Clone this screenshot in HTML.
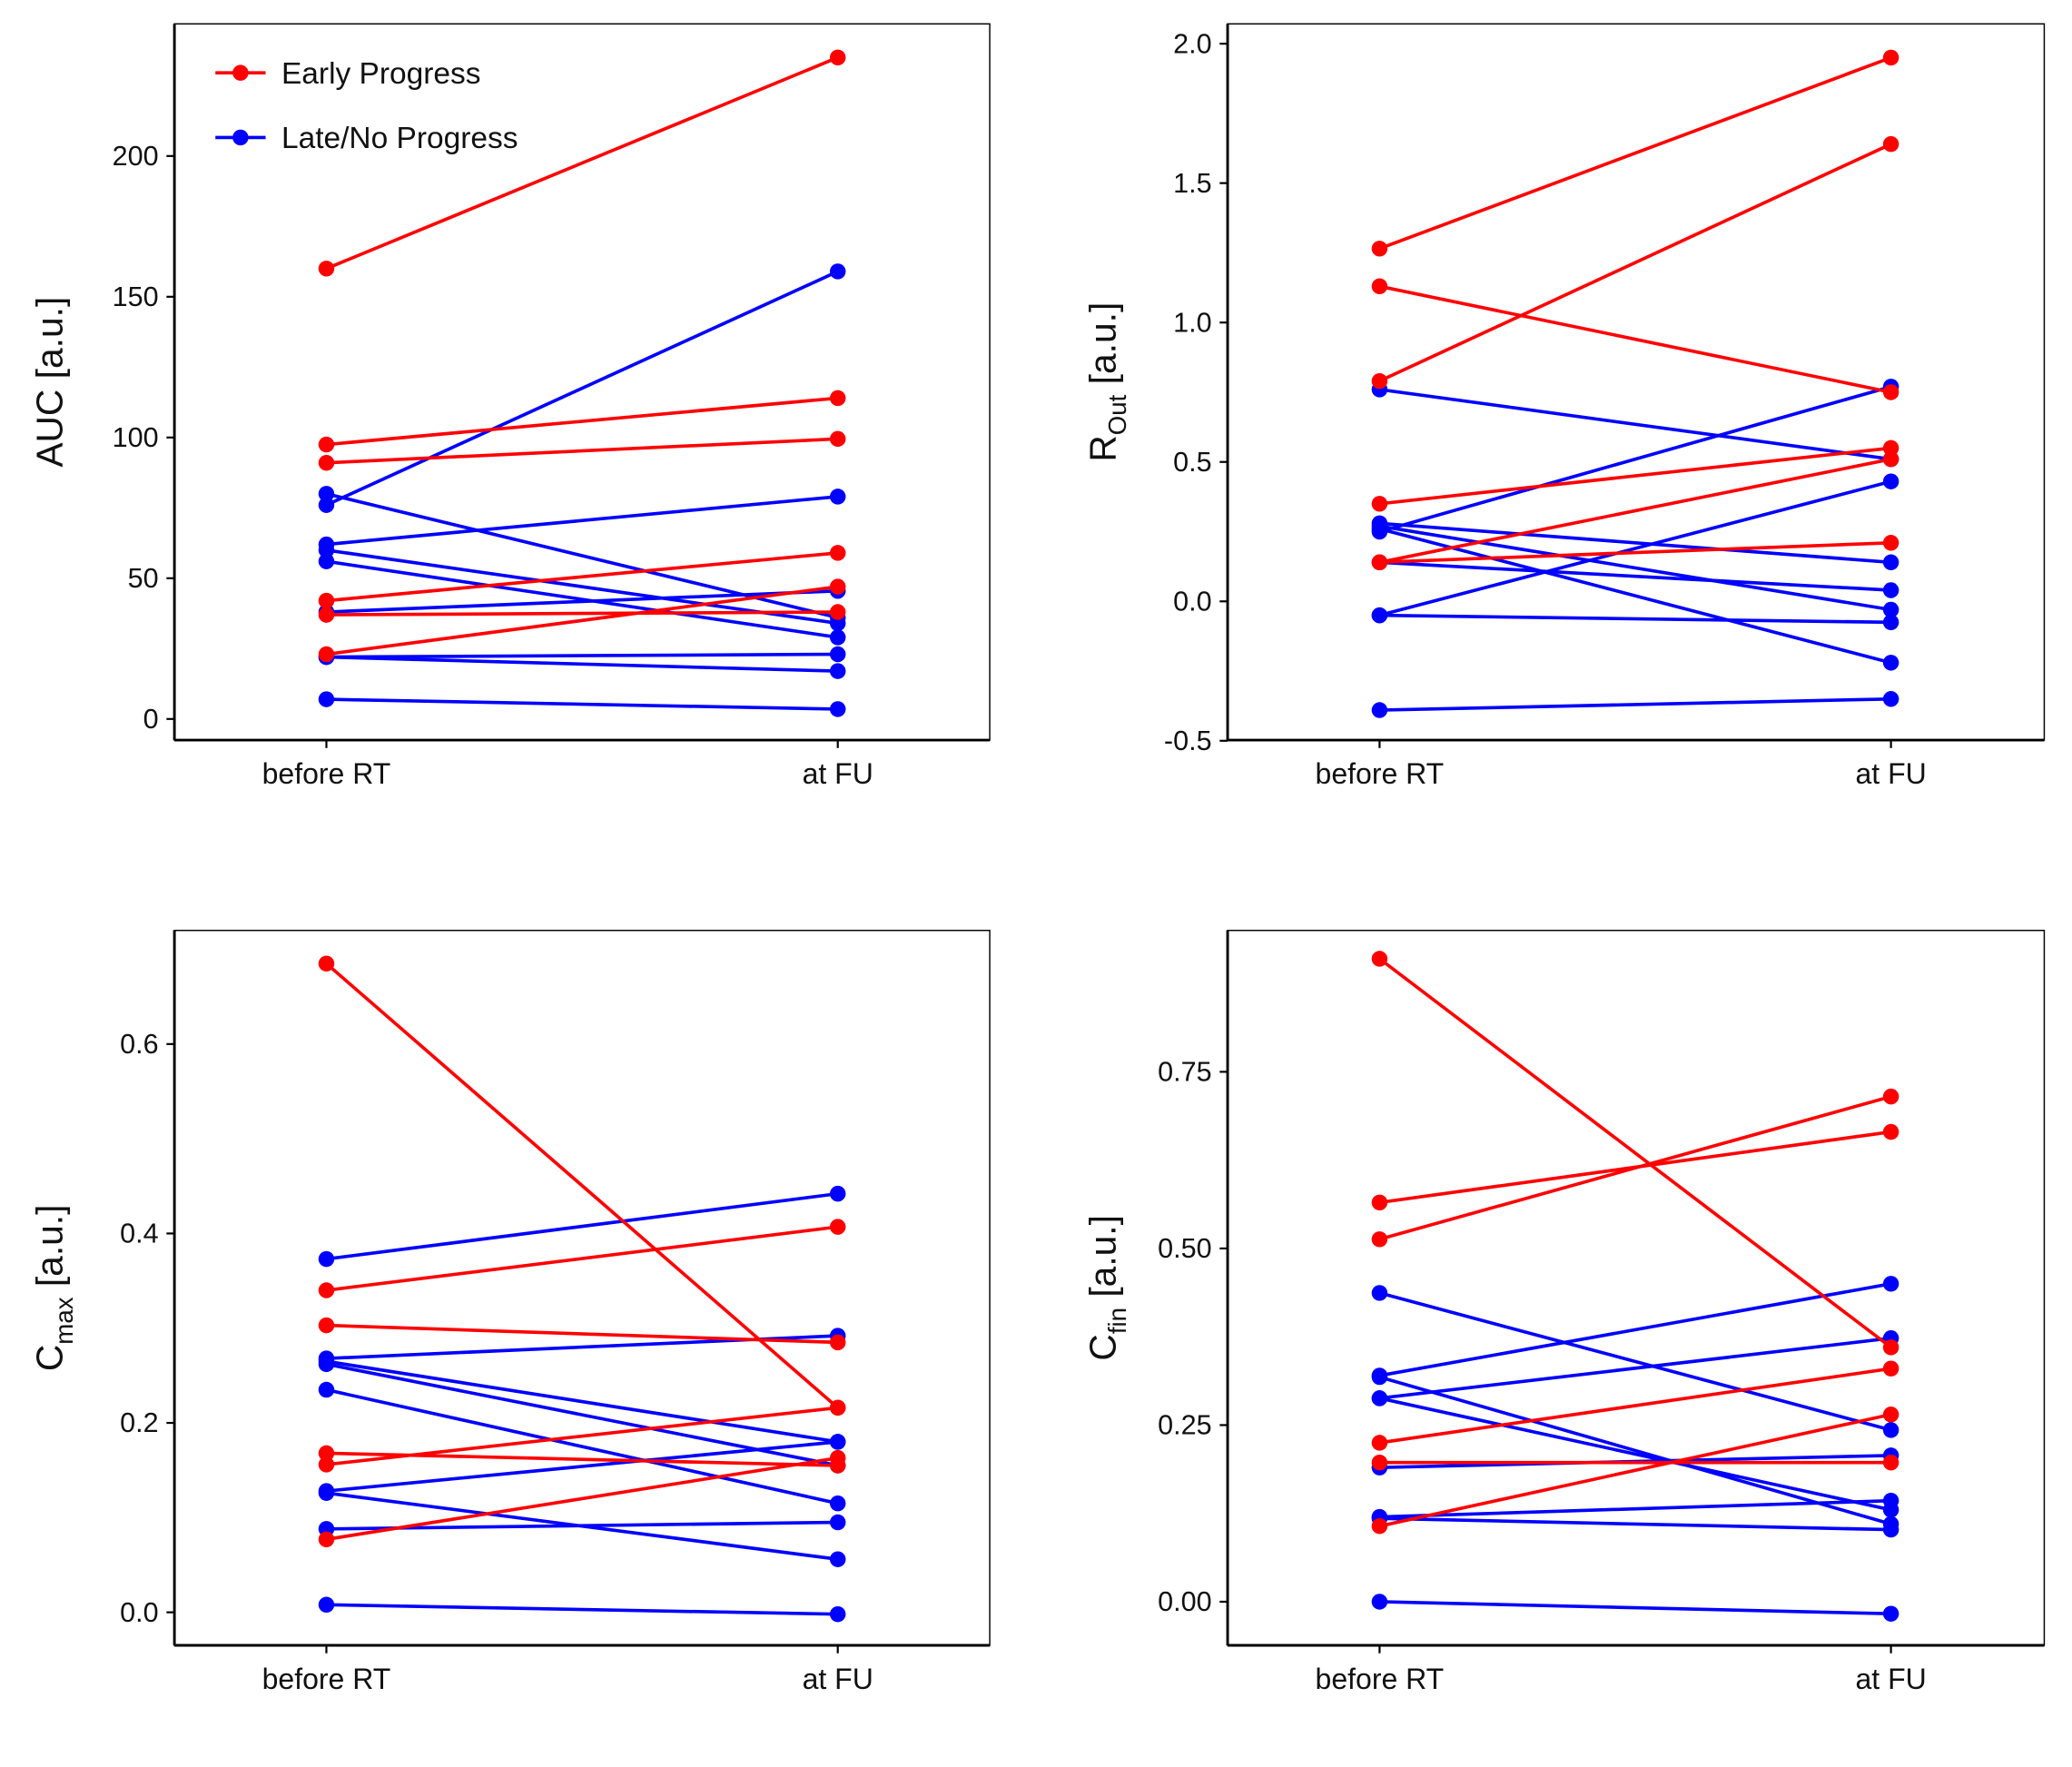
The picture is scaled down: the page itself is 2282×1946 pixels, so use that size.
<!DOCTYPE html>
<html><head><meta charset="utf-8">
<style>
html,body{margin:0;padding:0;background:#fff;}
svg{display:block;}
text{font-family:"Liberation Sans",sans-serif;fill:#111;}
</style></head>
<body>
<svg id="chart" width="2282" height="1946" viewBox="0 0 1568 1337" xmlns="http://www.w3.org/2000/svg"></svg>
<script>
// ---- data ----
const groups = ["before RT","at FU"];
const aucRedBefore = [160,97.5,91,42,37,23];
const aucRedAfter  = [235,114,99.5,59,38,47];
const aucBlueBefore = [76,62,80,60,56,38,22,22,7];
const aucBlueAfter  = [159,79,36,34,29,45.5,23,17,3.5];
const aucTicks = [0,50,100,150,200];

const routRedBefore = [1.265,1.13,0.79,0.35,0.14,0.14];
const routRedAfter  = [1.95,0.75,1.64,0.55,0.51,0.21];
const routBlueBefore = [0.76,0.25,-0.05,0.28,0.14,0.27,-0.05,0.26,-0.39];
const routBlueAfter  = [0.51,0.77,0.43,0.14,0.04,-0.03,-0.075,-0.22,-0.35];
const routTicks = [-0.5,0.0,0.5,1.0,1.5,2.0];

const cmaxRedBefore = [0.685,0.34,0.303,0.168,0.156,0.077];
const cmaxRedAfter  = [0.216,0.407,0.285,0.155,0.216,0.163];
const cmaxBlueBefore = [0.373,0.268,0.265,0.262,0.235,0.128,0.126,0.088,0.008];
const cmaxBlueAfter  = [0.442,0.292,0.18,0.155,0.115,0.18,0.056,0.095,-0.002];
const cmaxTicks = [0.0,0.2,0.4,0.6];

const cfinRedBefore = [0.91,0.565,0.513,0.225,0.197,0.107];
const cfinRedAfter  = [0.36,0.665,0.715,0.33,0.197,0.265];
const cfinBlueBefore = [0.437,0.32,0.318,0.288,0.288,0.19,0.12,0.118,0.0];
const cfinBlueAfter  = [0.243,0.45,0.11,0.373,0.13,0.207,0.143,0.102,-0.017];
const cfinTicks = [0.00,0.25,0.50,0.75];

const NS="http://www.w3.org/2000/svg";
const svg=document.getElementById('chart');
function mk(tag,attrs,parent){const e=document.createElementNS(NS,tag);for(const k in attrs)e.setAttribute(k,attrs[k]);(parent||svg).appendChild(e);return e;}

function panel(cfg){
  const g=mk('g',{});
  
  
  const {x0,x1,y0,y1,v0,p0,v1,p1}=cfg;
  const ys=v=>p0+(v-v0)*(p1-p0)/(v1-v0);
  const xs=i=>[x0+115,x0+502][i];
  const box=mk('rect',{x:x0,y:y0,width:x1-x0,height:y1-y0,fill:'none',stroke:'#000','stroke-width':1},g);
  
  
  mk('line',{x1:x0,y1:y0,x2:x0,y2:y1,stroke:'#000','stroke-width':2},g);
  mk('line',{x1:x0,y1:y1,x2:x1,y2:y1,stroke:'#000','stroke-width':2},g);
  cfg.ticks.forEach(t=>{
    const y=ys(t);
    mk('line',{x1:x0-6,y1:y,x2:x0,y2:y,stroke:'#000','stroke-width':1.5},g);
    const tx=mk('text',{x:x0-12,y:y+7,'text-anchor':'end','font-size':21},g);
    tx.textContent=cfg.fmt(t);
    
    
  });
  groups.forEach((lab,i)=>{
    mk('line',{x1:xs(i),y1:y1,x2:xs(i),y2:y1+6,stroke:'#000','stroke-width':1.5},g);
    const tx=mk('text',{x:xs(i),y:y1+33,'text-anchor':'middle','font-size':22},g);
    tx.textContent=lab;
    
    
  });
  const series=[[cfg.bb,cfg.ba,'#0000ff','blue-series'],[cfg.rb,cfg.ra,'#ff0000','red-series']];
  series.forEach(([b,a,col,nm])=>{
    b.forEach((v,k)=>{
      const ln=mk('line',{x1:xs(0),y1:ys(v),x2:xs(1),y2:ys(a[k]),stroke:col,'stroke-width':2.5},g);
      
      
      [[0,v],[1,a[k]]].forEach(([i,val])=>{
        const c=mk('circle',{cx:xs(i),cy:ys(val),r:6,fill:col},g);
        
        
      });
    });
  });
  const t=mk('text',{transform:`translate(${x0-85},${(y0+y1)/2}) rotate(-90)`,'text-anchor':'middle','font-size':28},g);
  t.innerHTML=cfg.title;
  
  
}
const f0=t=>String(t), f1=t=>t.toFixed(1), f2=t=>t.toFixed(2);
panel({name:'auc',x0:132,x1:749,y0:18,y1:560,v0:0,p0:544,v1:200,p1:118,ticks:aucTicks,fmt:f0,
  rb:aucRedBefore,ra:aucRedAfter,bb:aucBlueBefore,ba:aucBlueAfter,title:'AUC [a.u.]'});
panel({name:'rout',x0:929,x1:1547,y0:18,y1:560,v0:0,p0:455,v1:2,p1:33,ticks:routTicks,fmt:f1,
  rb:routRedBefore,ra:routRedAfter,bb:routBlueBefore,ba:routBlueAfter,title:'R<tspan font-size="19" dy="8">Out</tspan><tspan dy="-8"> [a.u.]</tspan>'});
panel({name:'cmax',x0:132,x1:749,y0:704,y1:1245,v0:0,p0:1220,v1:0.6,p1:790,ticks:cmaxTicks,fmt:f1,
  rb:cmaxRedBefore,ra:cmaxRedAfter,bb:cmaxBlueBefore,ba:cmaxBlueAfter,title:'C<tspan font-size="19" dy="8">max</tspan><tspan dy="-8"> [a.u.]</tspan>'});
panel({name:'cfin',x0:929,x1:1547,y0:704,y1:1245,v0:0,p0:1212,v1:0.75,p1:811,ticks:cfinTicks,fmt:f2,
  rb:cfinRedBefore,ra:cfinRedAfter,bb:cfinBlueBefore,ba:cfinBlueAfter,title:'C<tspan font-size="19" dy="8">fin</tspan><tspan dy="-8"> [a.u.]</tspan>'});

// legend
const lg=mk('g',{});


[['Early Progress','#ff0000',55],['Late/No Progress','#0000ff',104]].forEach(([lab,col,y])=>{
  mk('line',{x1:163,y1:y,x2:201,y2:y,stroke:col,'stroke-width':2.5},lg);
  mk('circle',{cx:182,cy:y,r:6,fill:col},lg);
  const t=mk('text',{x:213,y:y+8,'font-size':23},lg);
  t.textContent=lab;
  
  
});
</script>
</body></html>
